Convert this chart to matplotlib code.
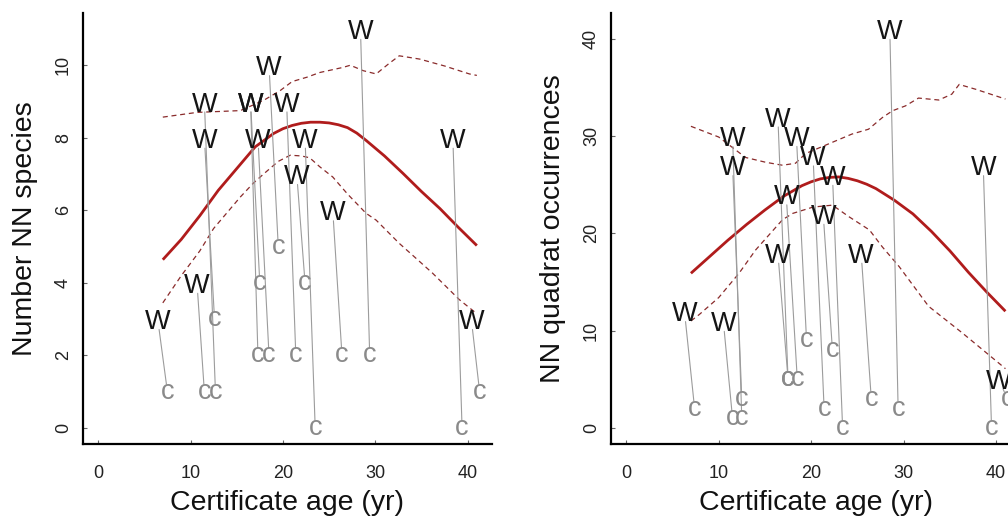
import matplotlib
matplotlib.use("Agg")
import matplotlib.pyplot as plt

plt.rcParams['font.family'] = ['Liberation Sans', 'DejaVu Sans']

# ---------------- data: left panel (Number NN species) ----------------
sp_w_x = [6.45, 10.7, 11.5, 11.5, 16.5, 16.5, 17.3, 18.5, 20.4, 21.5, 22.4, 25.4, 28.4, 38.4, 40.4]
sp_w_y = [3, 4, 9, 8, 9, 9, 8, 10, 9, 7, 8, 6, 11, 8, 3]
sp_c_x = [7.5, 11.5, 12.7, 12.6, 17.5, 17.3, 18.5, 19.5, 21.4, 22.4, 23.5, 26.4, 29.4, 39.4, 41.3]
sp_c_y = [1, 1, 1, 3, 4, 2, 2, 5, 2, 4, 0, 2, 2, 0, 1]

sp_fit_x = [7, 9, 11, 13, 15, 17, 19, 20, 21, 22, 23, 24, 25, 26, 27, 28, 29, 31, 33, 35, 37, 39, 41]
sp_fit_y = [4.64, 5.2, 5.85, 6.55, 7.15, 7.75, 8.12, 8.25, 8.34, 8.40, 8.43, 8.43, 8.41, 8.36, 8.28, 8.13, 7.93, 7.5, 7.02, 6.52, 6.05, 5.53, 5.03]

sp_up_x = [7, 10.7, 15.4, 17.9, 19.7, 21.0, 22.6, 24.0, 26.5, 27.3, 28.7, 30.1, 31.5, 32.6, 34.8, 37.5, 40.2, 41]
sp_up_y = [8.57, 8.7, 8.75, 9.03, 9.3, 9.55, 9.67, 9.8, 9.94, 10.0, 9.85, 9.76, 10.05, 10.26, 10.17, 9.98, 9.76, 9.72]

sp_lo_x = [7, 9, 11, 12.5, 14, 15.4, 16.8, 17.9, 19.5, 20.8, 22.0, 22.9, 24, 25.4, 27, 29, 30.1, 32.6, 34.1, 36.2, 39.1, 41]
sp_lo_y = [3.45, 4.2, 4.88, 5.5, 5.95, 6.37, 6.75, 7.0, 7.35, 7.52, 7.5, 7.45, 7.2, 6.92, 6.45, 5.92, 5.73, 5.09, 4.75, 4.27, 3.54, 3.15]

# ---------------- data: right panel (NN quadrat occurrences) ----------------
oc_w_x = [6.3, 10.5, 11.5, 11.5, 16.4, 16.4, 17.3, 18.4, 20.2, 21.3, 22.3, 25.4, 28.5, 38.6, 40.3]
oc_w_y = [12, 11, 30, 27, 32, 18, 24, 30, 28, 22, 26, 18, 41, 27, 5]
oc_c_x = [7.4, 11.5, 12.5, 12.5, 17.5, 17.5, 18.5, 19.5, 21.4, 22.3, 23.4, 26.5, 29.4, 39.5, 41.2]
oc_c_y = [2, 1, 1, 3, 5, 5, 5, 9, 2, 8, 0, 3, 2, 0, 3]

oc_fit_x = [7, 9, 11, 13, 15, 17, 19, 20, 21, 22, 23, 24, 25, 26, 27, 29, 31, 33, 35, 37, 39, 41]
oc_fit_y = [15.9, 17.6, 19.3, 20.9, 22.4, 23.8, 24.9, 25.3, 25.6, 25.75, 25.8, 25.65, 25.4, 25.05, 24.6, 23.4, 22.0, 20.2, 18.2, 16.0, 13.95, 12.0]

oc_up_x = [7, 10, 12.9, 15.1, 16.9, 18.3, 19.4, 21.9, 24.4, 26.2, 27.7, 28.8, 30.2, 31.6, 33.8, 35.2, 36.0, 37.8, 41]
oc_up_y = [31.0, 29.9, 27.8, 27.3, 27.0, 27.2, 28.2, 29.2, 30.2, 30.7, 31.9, 32.6, 33.1, 33.9, 33.7, 34.3, 35.3, 34.8, 33.8]

oc_lo_x = [7, 7.9, 10, 12.2, 14, 16.9, 18, 20.2, 22.3, 24.1, 26.3, 27.7, 29.5, 32.7, 36.3, 40.5, 41]
oc_lo_y = [11.0, 11.66, 13.4, 15.9, 18.3, 21.4, 22.05, 22.7, 22.9, 21.7, 20.35, 18.6, 16.6, 12.5, 9.8, 6.5, 6.1]

x_ticks = [0, 10, 20, 30, 40]
sp_ticks = [0, 2, 4, 6, 8, 10]
oc_ticks = [0, 10, 20, 30, 40]

x_label = "Certificate age (yr)"
sp_label = "Number NN species"
oc_label = "NN quadrat occurrences"

# ---------------- figure ----------------
W_PX, H_PX = 1008, 517
fig = plt.figure(figsize=(W_PX / 100, H_PX / 100), dpi=100)

ax1 = fig.add_axes([83 / W_PX, (H_PX - 444) / H_PX, 409 / W_PX, 431 / H_PX])
ax2 = fig.add_axes([611 / W_PX, (H_PX - 444) / H_PX, 409.6 / W_PX, 431 / H_PX])

RED = '#b01c1c'
DRED = '#8a2b2b'
GRAY_LINE = '#9c9c9c'
GRAY_C = '#8a8a8a'


def panel(ax, wx, wy, cx, cy, fx, fy, ux, uy, lx, ly, yticks, ylim, ylabel, ylab_x):
    for a, b, c, d in zip(wx, wy, cx, cy):
        ax.annotate('', xy=(c, d), xytext=(a, b),
                    arrowprops=dict(arrowstyle='-', color=GRAY_LINE, lw=0.8,
                                    shrinkA=7.5, shrinkB=5.5))
    for a, b in zip(wx, wy):
        ax.text(a, b, 'W', ha='center', va='center_baseline', fontsize=19.5, color='#151515')
    for c, d in zip(cx, cy):
        ax.text(c, d, 'c', ha='center', va='center', fontsize=19.5, color=GRAY_C)
    ax.plot(fx, fy, color=RED, lw=2.0, solid_capstyle='butt', solid_joinstyle='round')
    ax.plot(ux, uy, color=DRED, lw=0.9, linestyle=(0, (4, 3)))
    ax.plot(lx, ly, color=DRED, lw=0.9, linestyle=(0, (4, 3)))

    ax.set_xlim(-1.64, 42.64)
    ax.set_ylim(*ylim)
    ax.set_xticks(x_ticks)
    ax.set_yticks(yticks)
    for s in ['top', 'right']:
        ax.spines[s].set_visible(False)
    for s in ['left', 'bottom']:
        ax.spines[s].set_linewidth(1.6)
        ax.spines[s].set_color('black')
    ax.tick_params(axis='both', direction='in', length=3, width=0.8, color='#666666',
                   labelsize=13, labelcolor='#222222')
    ax.tick_params(axis='x', pad=15)
    ax.tick_params(axis='y', pad=8, labelrotation=90)
    for lab in ax.get_yticklabels():
        lab.set_va('center')
    ax.set_xlabel(x_label, fontsize=20.5, color='#111111')
    ax.xaxis.set_label_coords(0.5, -0.138)
    ax.xaxis.label.set_va('center')
    ax.set_ylabel(ylabel, fontsize=20.5, color='#111111')
    ax.yaxis.set_label_coords(ylab_x, 0.5)
    ax.yaxis.label.set_va('center')


panel(ax1, sp_w_x, sp_w_y, sp_c_x, sp_c_y, sp_fit_x, sp_fit_y, sp_up_x, sp_up_y,
      sp_lo_x, sp_lo_y, sp_ticks, (-0.44, 11.44), sp_label, -0.142)
panel(ax2, oc_w_x, oc_w_y, oc_c_x, oc_c_y, oc_fit_x, oc_fit_y, oc_up_x, oc_up_y,
      oc_lo_x, oc_lo_y, oc_ticks, (-1.64, 42.64), oc_label, -0.142)

fig.savefig('out.png', dpi=100)
